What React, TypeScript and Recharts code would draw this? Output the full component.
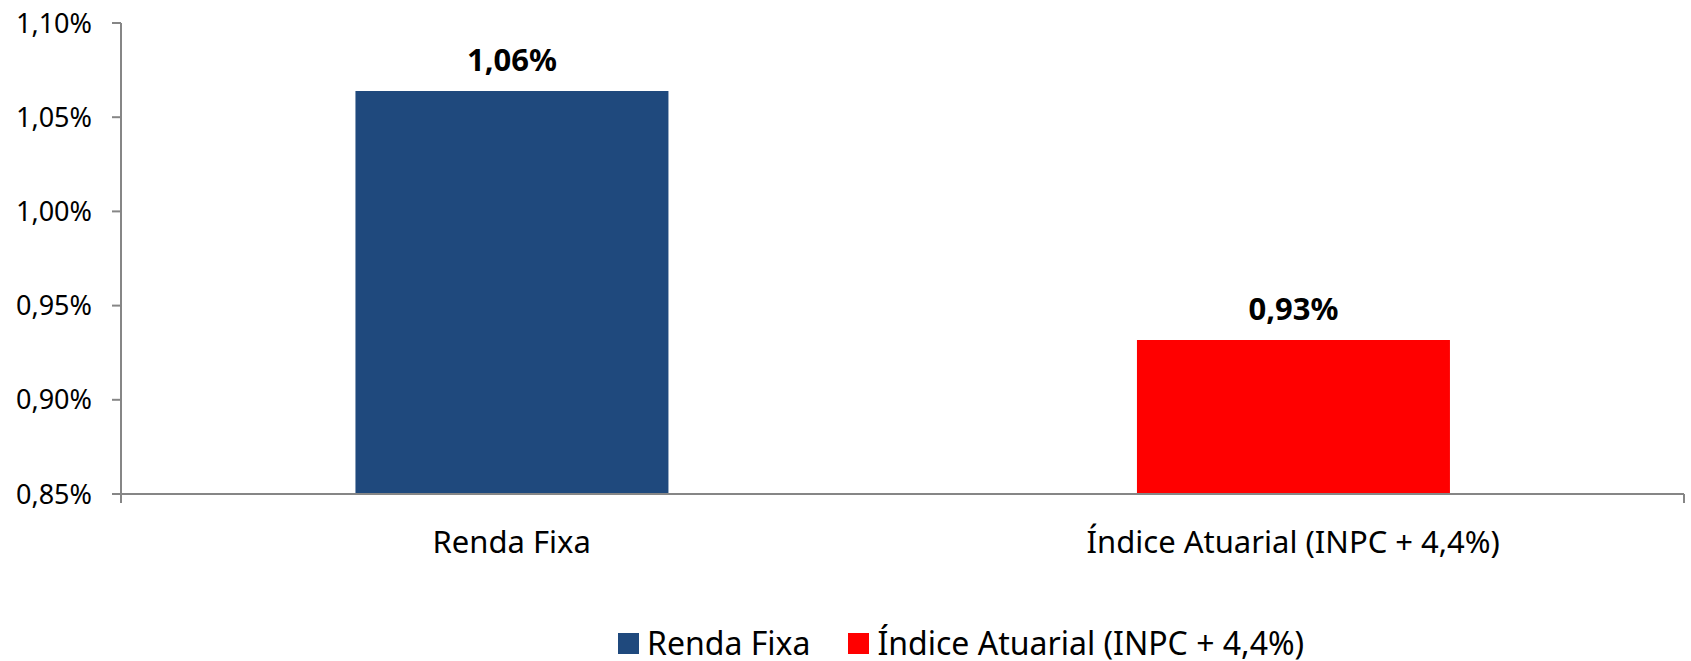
import { BarChart, Bar, XAxis, YAxis, Cell, LabelList, Legend } from 'recharts';

const categories = ['Renda Fixa', 'Índice Atuarial (INPC + 4,4%)'];
const values = [1.0639, 0.9318];
const valueLabels = ['1,06%', '0,93%'];
const barColors = ['#1F497D', '#FF0000'];
const yTicks = [0.85, 0.9, 0.95, 1.0, 1.05, 1.1];
const boundaryTicks = [0, 1, 2];

const data = categories.map((name, i) => ({ name, value: values[i], label: valueLabels[i] }));

const FONT = '"Noto Sans", "Open Sans", sans-serif';
const AXIS = '#868686';

const fmtPct = (v: number) => v.toFixed(2).replace('.', ',') + '%';

function CategoryTick(props: any) {
  const { x, y, payload } = props;
  return (
    <text x={x} y={y + 46} textAnchor="middle" dominantBaseline="central" fontFamily={FONT} fontSize={31} fill="#000">
      {payload.value}
    </text>
  );
}

function LegendBox() {
  return (
    <div style={{ display: 'flex', alignItems: 'center', height: 36, paddingLeft: 618, fontFamily: FONT, fontSize: 32, color: '#000' }}>
      {categories.map((c, i) => (
        <div key={c} style={{ display: 'flex', alignItems: 'center', marginRight: 38 }}>
          <span style={{ width: 21, height: 21, background: barColors[i], display: 'inline-block', marginRight: 8 }} />
          <span style={{ lineHeight: '36px' }}>{c}</span>
        </div>
      ))}
    </div>
  );
}

export default function App() {
  return (
    <div style={{ width: 1691, height: 661, background: '#fff' }}>
      <style>{'body{margin:0}'}</style>
      <BarChart width={1691} height={661} data={data} margin={{ top: 23, right: 7, left: 0, bottom: 0 }} barCategoryGap="30%">
        <YAxis
          domain={[0.85, 1.1]}
          ticks={yTicks}
          allowDataOverflow
          tickFormatter={fmtPct}
          width={121}
          axisLine={{ stroke: AXIS, strokeWidth: 2 }}
          tickLine={{ stroke: AXIS, strokeWidth: 2 }}
          tickSize={9}
          tickMargin={20}
          tick={{ fontFamily: FONT, fontSize: 27, fill: '#000' }}
        />
        {/* category boundary ticks and the x axis line */}
        <XAxis
          xAxisId="a_grid"
          type="number"
          domain={[0, 2]}
          ticks={boundaryTicks}
          tickFormatter={() => ''}
          axisLine={{ stroke: AXIS, strokeWidth: 2 }}
          tickLine={{ stroke: AXIS, strokeWidth: 2 }}
          tickSize={9}
          height={1}
        />
        <XAxis
          xAxisId="b_cat"
          dataKey="name"
          tick={<CategoryTick />}
          tickLine={false}
          axisLine={false}
          tickSize={0}
          tickMargin={0}
          height={130}
        />
        <Legend verticalAlign="bottom" content={() => <LegendBox />} />
        <Bar dataKey="value" xAxisId="b_cat" isAnimationActive={false}>
          {data.map((d, i) => (
            <Cell key={d.name} fill={barColors[i]} />
          ))}
          <LabelList dataKey="label" position="top" offset={20} style={{ fontFamily: FONT, fontSize: 31, fontWeight: 700, fill: '#000' }} />
        </Bar>
      </BarChart>
    </div>
  );
}
